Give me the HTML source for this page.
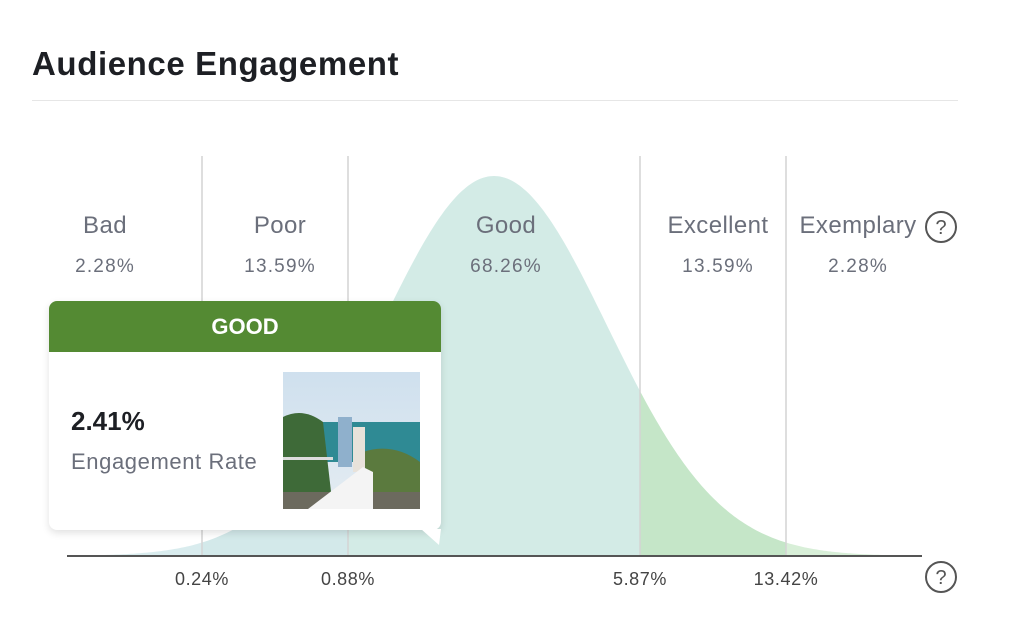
<!DOCTYPE html>
<html><head><meta charset="utf-8"><style>
body{margin:0;width:1024px;height:630px;background:#fff;font-family:"Liberation Sans",sans-serif;overflow:hidden;position:relative}
.abs{position:absolute}
</style></head><body>
<div class="abs" style="left:32px;top:45px;font-size:33px;font-weight:bold;color:#1d1f24;letter-spacing:0.6px">Audience Engagement</div>
<div class="abs" style="left:32px;top:100px;width:926px;height:1px;background:#e6e6e6"></div>
<svg id="chart" class="abs" style="left:0;top:0" width="1024" height="630"></svg>

<div class="abs" style="left:49px;top:301px;width:392px;height:229px;background:#fff;border-radius:8px;box-shadow:0 3px 8px rgba(0,0,0,0.12);overflow:visible">
  <div style="height:51px;background:#548a33;border-radius:8px 8px 0 0;color:#fff;font-weight:bold;font-size:22px;text-align:center;line-height:51px">GOOD</div>
  <div style="position:absolute;left:22px;top:105px;font-size:26px;font-weight:bold;color:#1d1f24">2.41%</div>
  <div style="position:absolute;left:22px;top:148px;font-size:22px;letter-spacing:0.6px;color:#6b6f7b">Engagement Rate</div>
  <svg style="position:absolute;left:234px;top:71px" width="137" height="137">
    <defs><linearGradient id="sky" x1="0" y1="0" x2="0" y2="1"><stop offset="0" stop-color="#cfe0ee"/><stop offset="1" stop-color="#e4ecf2"/></linearGradient></defs>
    <rect width="137" height="137" fill="url(#sky)"/>
    <rect y="50" width="137" height="40" fill="#2f8a94"/>
    <path d="M0 45 Q20 35 40 50 L50 137 L0 137Z" fill="#3e6a38"/>
    <path d="M80 80 Q110 70 137 90 L137 137 L70 137Z" fill="#5b7a3e"/>
    <rect y="120" width="137" height="17" fill="#6c6a5e"/>
    <rect x="55" y="45" width="14" height="50" fill="#8fb0cc"/>
    <rect x="70" y="55" width="12" height="45" fill="#e8e2da"/>
    <path d="M25 137 L80 95 L90 100 L90 137Z" fill="#f4f4f4"/>
    <rect x="0" y="85" width="50" height="3" fill="#ddd"/>
  </svg>
  <svg style="position:absolute;left:372px;top:228px" width="20" height="18"><path d="M0 0 L20 0 L18 16 Z" fill="#fff"/></svg>
</div>

<script>
const bands=["Bad","Poor","Good","Excellent","Exemplary"];
const bandShares=["2.28%","13.59%","68.26%","13.59%","2.28%"];
const thresholdLabels=["0.24%","0.88%","5.87%","13.42%"];
const thresholdSigmas=[-2,-1,1,2];
const NS="http://www.w3.org/2000/svg";
const svg=document.getElementById('chart');
const x0=67,x1=922,base=556,peak=176,mean=494,step=146,sig=113;
const xs=s=>mean+s*step;
const ys=x=>base-(base-peak)*Math.exp(-0.5*Math.pow((x-mean)/sig,2));
function mk(t,a){const e=document.createElementNS(NS,t);for(const k in a)e.setAttribute(k,a[k]);svg.appendChild(e);return e;}
const cuts=[x0].concat(thresholdSigmas.map(xs)).concat([x1]);
const fills=["#d9ecee","#d3e9ea","#d3ebe6","#c5e6c8","#d8efd8"];
for(let i=0;i<5;i++){
  let d="M"+cuts[i]+" "+base;
  for(let x=cuts[i];x<=cuts[i+1];x+=2)d+=" L"+x+" "+ys(x).toFixed(1);
  d+=" L"+cuts[i+1]+" "+ys(cuts[i+1]).toFixed(1)+" L"+cuts[i+1]+" "+base+"Z";
  const p=mk('path',{d:d,fill:fills[i]});
  
  
}
thresholdSigmas.forEach((s,i)=>{
  const l=mk('line',{x1:xs(s),x2:xs(s),y1:156,y2:base,stroke:'#d4d4d4','stroke-width':1.5});
  
  
  const t=mk('text',{x:xs(s),y:585,'text-anchor':'middle','font-size':18,'letter-spacing':0.6,fill:'#444'});
  t.textContent=thresholdLabels[i];
  
  
});
const centers=[105,280,506,718,858];
bands.forEach((b,i)=>{
  const t=mk('text',{x:centers[i],y:233,'text-anchor':'middle','font-size':24,'letter-spacing':0.4,fill:'#6b6f7b'});
  t.textContent=b;
  
  
  const v=mk('text',{x:centers[i],y:272,'text-anchor':'middle','font-size':19,'letter-spacing':1.2,fill:'#6b6f7b'});
  v.textContent=bandShares[i];
  
  
});
const ax=mk('line',{x1:x0,x2:x1,y1:base,y2:base,stroke:'#555','stroke-width':2});


[[941,227],[941,577]].forEach(c=>{
  const g=document.createElementNS(NS,'g');svg.appendChild(g);
  
  
  const ci=document.createElementNS(NS,'circle');ci.setAttribute('cx',c[0]);ci.setAttribute('cy',c[1]);ci.setAttribute('r',15);ci.setAttribute('fill','none');ci.setAttribute('stroke','#555');ci.setAttribute('stroke-width',2);g.appendChild(ci);
  const t=document.createElementNS(NS,'text');t.setAttribute('x',c[0]);t.setAttribute('y',c[1]+7);t.setAttribute('text-anchor','middle');t.setAttribute('font-size',20);t.setAttribute('fill','#555');t.textContent='?';g.appendChild(t);
});
</script>
</body></html>
